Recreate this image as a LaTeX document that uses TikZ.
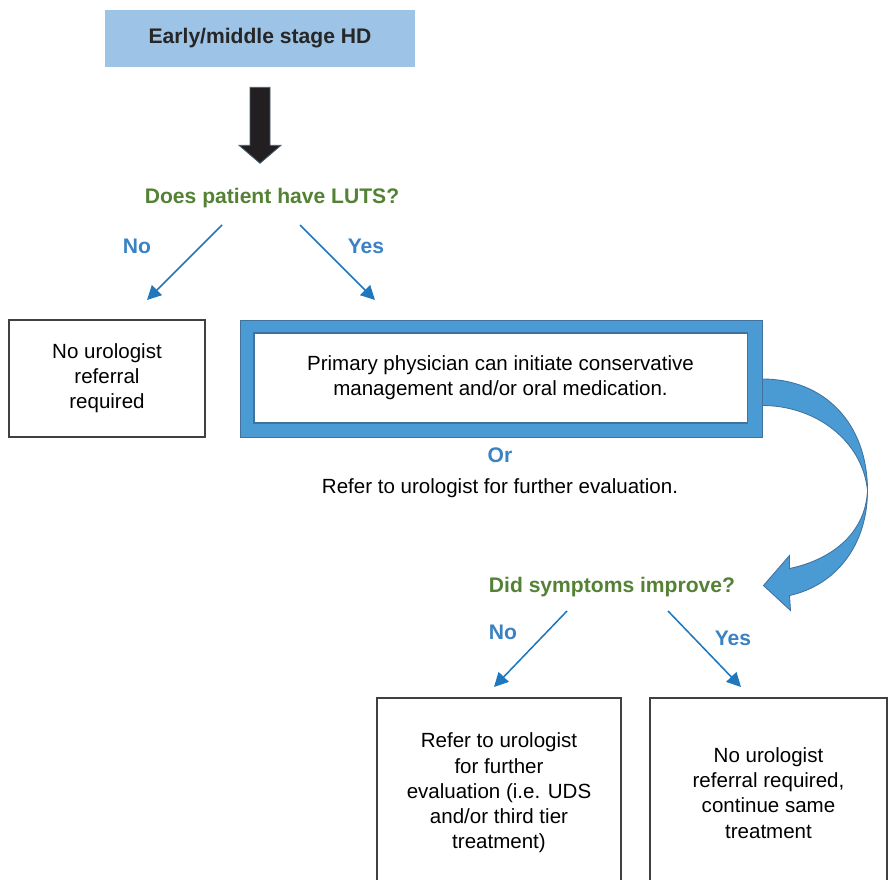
\documentclass[tikz,border=0pt]{standalone}
\usepackage{fontspec}
\setmainfont{Liberation Sans}
\usetikzlibrary{arrows.meta,calc}

\definecolor{topblue}{RGB}{157,195,230}
\definecolor{framblue}{RGB}{74,155,212}
\definecolor{framline}{RGB}{65,113,156}
\definecolor{arrowblue}{RGB}{31,119,190}
\definecolor{labelblue}{RGB}{58,130,195}
\definecolor{qgreen}{RGB}{84,130,53}
\definecolor{boxgray}{RGB}{64,64,64}
\definecolor{blockdark}{RGB}{35,31,32}
\definecolor{blockline}{RGB}{70,95,115}

\begin{document}
\begin{tikzpicture}[
    x=0.025cm, y=-0.025cm,
    every node/.style={font=\fontsize{14.6}{17.9}\selectfont, inner sep=0pt},
    caja/.style={draw=boxgray, line width=0.8pt, fill=white, align=center},
    pregunta/.style={font=\fontsize{15}{18}\selectfont\bfseries, text=qgreen},
    etiqueta/.style={font=\fontsize{15}{18}\selectfont\bfseries, text=labelblue},
    flecha/.style={draw=arrowblue, line width=1.1pt, -{Triangle[length=10pt,width=10pt]}}
]
\useasboundingbox (0,0) rectangle (888,880);
\clip (0,0) rectangle (888,880);
% Inicio
\node[fill=topblue, minimum width=7.75cm, minimum height=1.425cm,
      font=\fontsize{15}{18}\selectfont\bfseries, text=black!85] (earlyStage) at (260,38.5) {Early/middle stage HD};
% Flecha gruesa
\draw[fill=blockdark, draw=blockline, line width=0.6pt]
    ($(earlyStage.south)+(-10,20)$) -- ($(earlyStage.south)+(10,20)$) -- ($(earlyStage.south)+(10,78)$)
    -- ($(earlyStage.south)+(21,78)$) -- ($(earlyStage.south)+(0,96)$) -- ($(earlyStage.south)+(-21,78)$)
    -- ($(earlyStage.south)+(-10,78)$) -- cycle;
% Pregunta LUTS
\node[pregunta] (lutsQuestion) at (272,198) {Does patient have LUTS?};
\node[etiqueta] (lutsNo) at (137,246) {No};
\node[etiqueta] (lutsYes) at (366,246) {Yes};
% Cajas primer nivel
\node[caja, minimum width=4.9cm, minimum height=2.925cm] (noReferral) at (107,378.5) {No urologist\\referral\\required};
\node[fill=framblue, draw=framline, line width=0.6pt, minimum width=13.05cm, minimum height=2.925cm] (primaryFrame) at (501,378.5) {};
\node[caja, draw=framline, minimum width=12.325cm, minimum height=2.25cm] (primaryBox) at (500.5,378)
    {Primary physician can initiate conservative\\management and/or oral medication.};
\node[etiqueta] (orLabel) at (500,455) {Or};
\node (referText) at (500,488) {Refer to urologist for further evaluation.};
% Flecha curva
\draw[fill=framblue, draw=framline, line width=0.6pt]
    ($(primaryFrame.east)+(0,0.5)$) .. controls ($(primaryFrame.east)+(62,0.5)$) and ($(primaryFrame.east)+(105,45)$) .. ($(primaryFrame.east)+(105,112)$)
    .. controls ($(primaryFrame.east)+(105,167)$) and ($(primaryFrame.east)+(73,207)$) .. ($(primaryFrame.east)+(27,217)$)
    -- ($(primaryFrame.east)+(28,232)$) -- ($(primaryFrame.east)+(1,207)$) -- ($(primaryFrame.east)+(27,177)$)
    -- ($(primaryFrame.east)+(27,190)$)
    .. controls ($(primaryFrame.east)+(66,182)$) and ($(primaryFrame.east)+(103,157)$) .. ($(primaryFrame.east)+(105,112)$)
    .. controls ($(primaryFrame.east)+(100,62)$) and ($(primaryFrame.east)+(53,27)$) .. ($(primaryFrame.east)+(0,27)$) -- cycle;
% Pregunta sintomas
\node[pregunta] (improveQuestion) at (612,587) {Did symptoms improve?};
\node[etiqueta] (improveNo) at (503,632) {No};
\node[etiqueta] (improveYes) at (733,638) {Yes};
% Cajas segundo nivel
\node[caja, minimum width=6.1cm, minimum height=4.75cm] (referBox) at (499,793)
    {Refer to urologist\\for further\\evaluation (i.e. UDS\\and/or third tier\\treatment)};
\node[caja, minimum width=5.925cm, minimum height=4.75cm] (continueBox) at (768.5,793)
    {No urologist\\referral required,\\continue same\\treatment};
% Flechas
\coordinate (lutsNoStart) at (222,225);
\coordinate (lutsNoEnd) at (147,300);
\coordinate (lutsYesStart) at (300,225);
\coordinate (lutsYesEnd) at (375,300);
\coordinate (improveNoStart) at (567,611);
\coordinate (improveNoEnd) at (494,687);
\coordinate (improveYesStart) at (668,611);
\coordinate (improveYesEnd) at (741,687);
\draw[flecha] (lutsNoStart) -- (lutsNoEnd);
\draw[flecha] (lutsYesStart) -- (lutsYesEnd);
\draw[flecha] (improveNoStart) -- (improveNoEnd);
\draw[flecha] (improveYesStart) -- (improveYesEnd);
\end{tikzpicture}
\end{document}
